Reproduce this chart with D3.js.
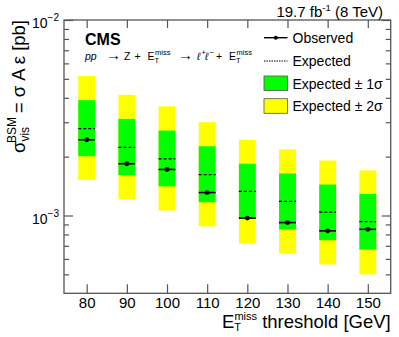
<html>
<head>
<script src="https://d3js.org/d3.v7.min.js"></script>
</head>
<style>
	body {
		margin: 0;
		background-color: white;
		font-family: "Liberation Sans", Arial, sans-serif;
	}
	svg {
		display: block;
	}
</style>
<body>
<script>
	var width = 399;
	var height = 337;

	// signal thresholds and limits
	var thresholds = [80, 90, 100, 110, 120, 130, 140, 150];
	var observed = [2.44e-3, 1.84e-3, 1.72e-3, 1.31e-3, 9.7e-4, 9.2e-4, 8.35e-4, 8.5e-4];
	var expected = [2.78e-3, 2.23e-3, 1.95e-3, 1.62e-3, 1.33e-3, 1.18e-3, 1.04e-3, 9.3e-4];
	var exp1Lo = [2.01e-3, 1.61e-3, 1.41e-3, 1.17e-3, 9.6e-4, 8.5e-4, 7.47e-4, 6.7e-4];
	var exp1Hi = [3.89e-3, 3.12e-3, 2.72e-3, 2.26e-3, 1.84e-3, 1.64e-3, 1.44e-3, 1.29e-3];
	var exp2Lo = [1.52e-3, 1.21e-3, 1.06e-3, 8.8e-4, 7.2e-4, 6.4e-4, 5.62e-4, 5.0e-4];
	var exp2Hi = [5.18e-3, 4.14e-3, 3.62e-3, 3.0e-3, 2.44e-3, 2.18e-3, 1.91e-3, 1.70e-3];
	var yTicksMinor = [5e-4, 6e-4, 7e-4, 8e-4, 9e-4, 2e-3, 3e-3, 4e-3, 5e-3, 6e-3, 7e-3, 8e-3, 9e-3];
	var yTicksMajor = [1e-3, 1e-2];
	var yTickLabels = ["\u22123", "\u22122"];
	var legendLabels = ["Observed", "Expected", "Expected \u00b1 1\u03c3", "Expected \u00b1 2\u03c3"];

	// frame edges (note: "top" clashes with window.top)
	var fLeft = 64, fRight = 390.7, fTop = 20, fBottom = 293.3;
	var halfW = 2.1;
	var frameColor = "#555";

	var x = d3.scaleLinear().domain([74.35, 155.7]).range([fLeft, fRight]);
	var y = d3.scaleLog().domain([4e-4, 1e-2]).range([fBottom, fTop]);

	var svg = d3.select("body")
		.append("svg")
		.attr("width", width)
		.attr("height", height);

	var rows = thresholds.map(function(t, i) {
		return {t: t, obs: observed[i], exp: expected[i], lo1: exp1Lo[i], hi1: exp1Hi[i], lo2: exp2Lo[i], hi2: exp2Hi[i]};
	});

	// 2 sigma bands
	svg.selectAll("rect.band2")
		.data(rows)
		.enter()
		.append("rect")
		.attr("class", "band2")
		.attr("x", function(d) { return x(d.t - halfW); })
		.attr("width", function(d) { return x(d.t + halfW) - x(d.t - halfW); })
		.attr("y", function(d) { return y(d.hi2); })
		.attr("height", function(d) { return y(d.lo2) - y(d.hi2); })
		.attr("fill", "#ffff00");

	// 1 sigma bands
	svg.selectAll("rect.band1")
		.data(rows)
		.enter()
		.append("rect")
		.attr("class", "band1")
		.attr("x", function(d) { return x(d.t - halfW); })
		.attr("width", function(d) { return x(d.t + halfW) - x(d.t - halfW); })
		.attr("y", function(d) { return y(d.hi1); })
		.attr("height", function(d) { return y(d.lo1) - y(d.hi1); })
		.attr("fill", "#00ff00");

	// expected
	svg.selectAll("line.exp")
		.data(rows)
		.enter()
		.append("line")
		.attr("class", "exp")
		.attr("x1", function(d) { return x(d.t - halfW); })
		.attr("x2", function(d) { return x(d.t + halfW); })
		.attr("y1", function(d) { return y(d.exp); })
		.attr("y2", function(d) { return y(d.exp); })
		.attr("stroke", "black")
		.attr("stroke-width", 1.3)
		.attr("stroke-dasharray", "3,2");

	// observed
	svg.selectAll("line.obs")
		.data(rows)
		.enter()
		.append("line")
		.attr("class", "obs")
		.attr("x1", function(d) { return x(d.t - halfW); })
		.attr("x2", function(d) { return x(d.t + halfW); })
		.attr("y1", function(d) { return y(d.obs); })
		.attr("y2", function(d) { return y(d.obs); })
		.attr("stroke", "black")
		.attr("stroke-width", 1.6);

	svg.selectAll("circle.obs")
		.data(rows)
		.enter()
		.append("circle")
		.attr("class", "obs")
		.attr("cx", function(d) { return x(d.t); })
		.attr("cy", function(d) { return y(d.obs); })
		.attr("r", 2.4)
		.attr("fill", "black");

	// axes
	var allY = yTicksMinor.concat(yTicksMajor);
	function tickLen(d) { return yTicksMajor.indexOf(d) >= 0 ? 9 : 5; }

	var gx = svg.append("g")
		.attr("transform", "translate(0," + fBottom + ")")
		.call(d3.axisBottom(x).tickValues(thresholds).tickSizeInner(-9).tickSizeOuter(0).tickPadding(4));
	gx.selectAll("text").attr("font-size", "15px").attr("font-family", "Liberation Sans, Arial, sans-serif").attr("fill", "black");

	var gxt = svg.append("g")
		.attr("transform", "translate(0," + fTop + ")")
		.call(d3.axisTop(x).tickValues(thresholds).tickSizeInner(-8).tickSizeOuter(0).tickFormat(""));

	var gy = svg.append("g")
		.attr("transform", "translate(" + fLeft + ",0)")
		.call(d3.axisLeft(y).tickValues(allY).tickSizeOuter(0).tickFormat(""));
	gy.selectAll(".tick line").attr("x2", function(d) { return tickLen(d); });

	var gyr = svg.append("g")
		.attr("transform", "translate(" + fRight + ",0)")
		.call(d3.axisRight(y).tickValues(allY).tickSizeOuter(0).tickFormat(""));
	gyr.selectAll(".tick line").attr("x2", function(d) { return -tickLen(d); });

	svg.selectAll(".domain").remove();
	svg.selectAll(".tick line").attr("stroke", frameColor).attr("stroke-width", 1.2);

	svg.append("rect")
		.attr("x", fLeft)
		.attr("y", fTop)
		.attr("width", fRight - fLeft)
		.attr("height", fBottom - fTop)
		.attr("fill", "none")
		.attr("stroke", frameColor)
		.attr("stroke-width", 1.3);

	// y tick labels 10^-3, 10^-2
	yTicksMajor.forEach(function(v, i) {
		var t = svg.append("text")
			.attr("x", 59)
			.attr("y", y(v) + 8)
			.attr("text-anchor", "end")
			.attr("font-size", "14px");
		t.append("tspan").text("10");
		t.append("tspan").attr("font-size", "10px").attr("dy", -7).text(yTickLabels[i]);
	});

	// x title
	var xt = svg.append("text")
		.attr("x", fRight)
		.attr("y", 327.5)
		.attr("text-anchor", "end")
		.attr("font-size", "18.5px");
	xt.append("tspan").text("E");
	xt.append("tspan").attr("font-size", "11px").attr("dy", 3).text("T");
	xt.append("tspan").attr("font-size", "11px").attr("dx", -6.7).attr("dy", -11).text("miss");
	xt.append("tspan").attr("dy", 8).text(" threshold [GeV]");

	// y title
	var yg = svg.append("g").attr("transform", "translate(25,153) rotate(-90)");
	var yt = yg.append("text").attr("x", 0).attr("y", 0).attr("font-size", "18.5px");
	yt.append("tspan").text("\u03c3");
	yt.append("tspan").attr("font-size", "12px").attr("dy", 4).text("vis");
	yt.append("tspan").attr("font-size", "12px").attr("dx", -16).attr("dy", -13).text("BSM");
	yg.append("text")
		.attr("x", 133)
		.attr("y", 0)
		.attr("text-anchor", "end")
		.attr("font-size", "18.5px")
		.text(" = \u03c3 A \u03b5 [pb]");

	// lumi label
	var lumi = svg.append("text")
		.attr("x", 383)
		.attr("y", 16.5)
		.attr("text-anchor", "end")
		.attr("font-size", "15px");
	lumi.append("tspan").text("19.7 fb");
	lumi.append("tspan").attr("font-size", "9.5px").attr("dy", -5.5).text("-1");
	lumi.append("tspan").attr("dy", 5.5).text(" (8 TeV)");

	// CMS + process
	svg.append("text")
		.attr("x", 85)
		.attr("y", 44.5)
		.attr("font-size", "16px")
		.attr("font-weight", "bold")
		.text("CMS");

	var proc = svg.append("g").attr("font-size", "10.5px");
	function emiss(px) {
		proc.append("text").attr("x", px).attr("y", 60).text("E");
		proc.append("text").attr("x", px + 7).attr("y", 63).attr("font-size", "7.5px").text("T");
		proc.append("text").attr("x", px + 7.5).attr("y", 55).attr("font-size", "7.5px").text("miss");
	}
	proc.append("text").attr("x", 85).attr("y", 60).attr("font-style", "italic").text("pp");
	proc.append("text").attr("x", 106).attr("y", 60).attr("font-size", "15px").text("\u2192");
	proc.append("text").attr("x", 124).attr("y", 60).text("Z");
	proc.append("text").attr("x", 134.5).attr("y", 60).text("+");
	emiss(147.5);
	proc.append("text").attr("x", 178).attr("y", 60).attr("font-size", "15px").text("\u2192");
	proc.append("text").attr("x", 197).attr("y", 60).attr("font-style", "italic").text("\u2113");
	proc.append("text").attr("x", 201.5).attr("y", 55).attr("font-size", "7.5px").text("+");
	proc.append("text").attr("x", 205).attr("y", 60).attr("font-style", "italic").text("\u2113");
	proc.append("text").attr("x", 209.5).attr("y", 55).attr("font-size", "7.5px").text("\u2212");
	proc.append("text").attr("x", 216).attr("y", 60).text("+");
	emiss(229);

	// legend
	var lgX = 264, lgW = 23.5;
	var lgY = [37.7, 61, 83.3, 106];
	var leg = svg.append("g");
	leg.append("line").attr("x1", lgX).attr("x2", lgX + lgW).attr("y1", lgY[0]).attr("y2", lgY[0])
		.attr("stroke", "black").attr("stroke-width", 1.4);
	leg.append("circle").attr("cx", lgX + lgW / 2).attr("cy", lgY[0]).attr("r", 2).attr("fill", "black");
	leg.append("line").attr("x1", lgX).attr("x2", lgX + lgW).attr("y1", lgY[1]).attr("y2", lgY[1])
		.attr("stroke", "black").attr("stroke-width", 1).attr("stroke-dasharray", "1.5,1");
	leg.append("rect").attr("x", lgX).attr("y", lgY[2] - 7.3).attr("width", lgW).attr("height", 14.6)
		.attr("fill", "#00ff00").attr("stroke", "#555").attr("stroke-width", 0.8);
	leg.append("rect").attr("x", lgX).attr("y", lgY[3] - 7.3).attr("width", lgW).attr("height", 14.6)
		.attr("fill", "#ffff00").attr("stroke", "#555").attr("stroke-width", 0.8);
	leg.selectAll("text.lg")
		.data(legendLabels)
		.enter()
		.append("text")
		.attr("class", "lg")
		.attr("x", 292.5)
		.attr("y", function(d, i) { return lgY[i] + 5.2; })
		.attr("font-size", "14px")
		.text(function(d) { return d; });
</script>
</body>
</html>
